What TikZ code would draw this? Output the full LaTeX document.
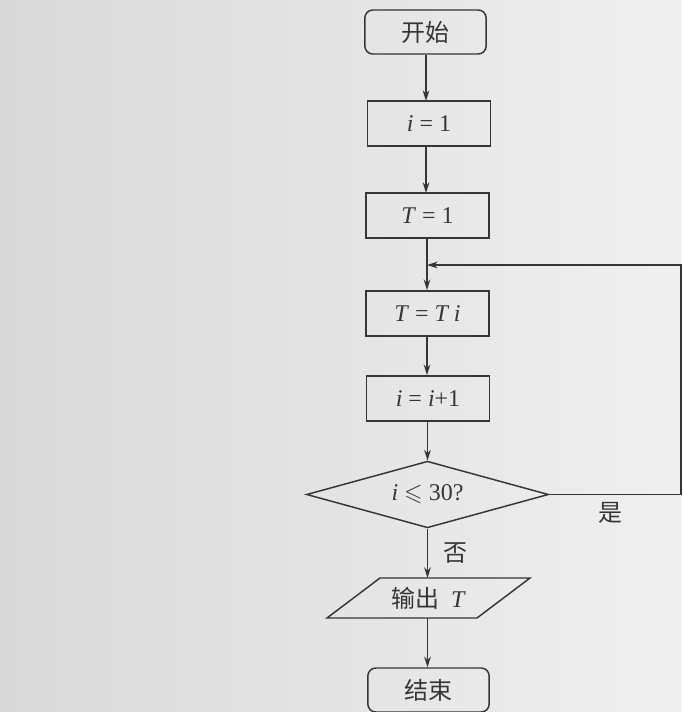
\documentclass[tikz,border=0pt]{standalone}
\usepackage{amssymb}
\usepackage{fontspec}
\setmainfont{Liberation Serif}
\newfontfamily\cjk{Noto Sans CJK SC}
\usetikzlibrary{arrows.meta,shapes.geometric}
\definecolor{ink}{HTML}{363636}
\tikzset{
  base/.style={font=\fontsize{18}{21}\selectfont, text=ink, draw=ink, line width=1.1pt, inner sep=0pt},
  procbox/.style={base, rectangle, minimum width=92pt, minimum height=34pt},
  termbox/.style={base, rectangle, rounded corners=6pt, minimum width=91pt, minimum height=33pt},
  decbox/.style={base, diamond, aspect=3.6, minimum width=181.5pt, minimum height=50pt},
  flow/.style={draw=ink, line width=1pt, -{Stealth[length=8pt,width=5pt]}},
  lbl/.style={font=\fontsize{18}{21}\selectfont\cjk, text=ink}
}
\begin{document}
\begin{tikzpicture}[x=0.75pt,y=-0.75pt]
\shade[left color=black!15, right color=black!6] (0,0) rectangle (682,712);
\useasboundingbox (0,0) rectangle (682,712);
\node[termbox] (start) at (425.5,32) {\cjk 开始};
\node[procbox] (i1) at (429,123.5) {\textit{i} = 1};
\node[procbox] (t1) at (427.5,215.5) {\textit{T} = 1};
\coordinate (join) at (427,265);
\node[procbox] (tti) at (427.5,313.5) {\textit{T} = \textit{T i}};
\node[procbox] (inc) at (428,398.5) {\textit{i} = \textit{i}+1};
\node[decbox] (dec) at (427.5,494.5) {\textit{i} \ensuremath{\leqslant} 30?};
\node[base, draw=none, minimum width=150pt, minimum height=30pt] (out) at (428.5,598) {{\cjk 输出}\enspace\textit{T}};
\draw[ink, line width=1.1pt] (380,578) -- (530,578) -- (477,618) -- (327,618) -- cycle;
\node[termbox] (stop) at (428.5,690) {\cjk 结束};
\coordinate (rb) at (681,494.5);
\coordinate (rt) at (681,265);
\draw[flow] (start.south -| 426,0) -- (426,101);
\draw[flow] (426,146) -- (426,193);
\draw[draw=ink, line width=1pt] (t1.south -| join) -- (join);
\draw[flow] (join) -- (tti.north -| join);
\draw[flow] (tti.south -| join) -- (inc.north -| join);
\draw[flow] (inc.south -| dec) -- (dec.north);
\draw[flow] (dec.south) -- (427.5,578);
\draw[flow] (427.5,618) -- (stop.north -| 427.5,0);
\draw[flow] (dec.east) -- (rb) -- (rt) -- (join);
\node[lbl] at (455,553) {否};
\node[lbl] at (610,513) {是};
\end{tikzpicture}
\end{document}
